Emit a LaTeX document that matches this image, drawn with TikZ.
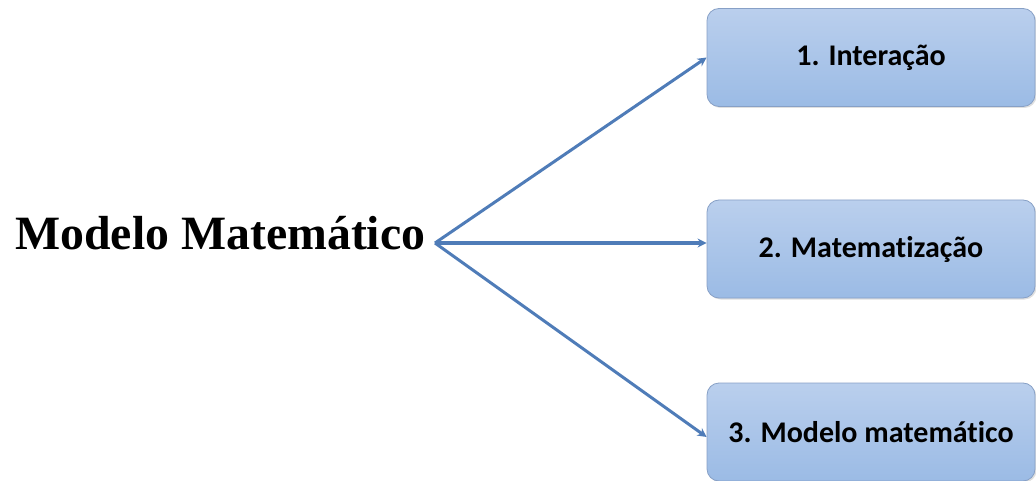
\documentclass[tikz,border=0pt]{standalone}
\usepackage{fontspec}
\setmainfont{Liberation Serif}
\newfontfamily\boxfont[Ligatures={NoCommon}]{Carlito}
\usetikzlibrary{positioning,shadows,arrows.meta}
\definecolor{boxtop}{RGB}{186,207,237}
\definecolor{boxbot}{RGB}{155,187,229}
\definecolor{boxline}{RGB}{135,160,198}
\definecolor{arrowblue}{RGB}{79,124,184}
\tikzset{
  stage/.style={draw=boxline, line width=0.8pt, rounded corners=12pt,
    top color=boxtop, bottom color=boxbot,
    drop shadow={shadow xshift=1.5pt, shadow yshift=-1.5pt, opacity=0.25},
    minimum width=328pt, minimum height=98pt,
    font=\boxfont\bfseries\fontsize{30}{32}\selectfont, text=black},
  link/.style={draw=arrowblue, line width=3pt, -{Stealth[length=9pt,width=9pt]}}
}
\begin{document}
\begin{tikzpicture}[x=1pt,y=-1pt]
\useasboundingbox (0,0) rectangle (1036,481);
% the title
\node[anchor=base west, inner sep=0pt,
  font=\bfseries\fontsize{47.8}{50}\selectfont] (title) at (15,250) {Modelo Matemático};
\coordinate (hub) at (435,243);

% the stages
\node[stage] (one) at (871,57.5) {1. Interação};
\node[stage] (two) at (871,249) {2. Matematização};
\node[stage] (three) at (871,432) {3. Modelo matemático};

% the arrows
\path (hub) edge[link] (one.west)
      (hub) edge[link] ([yshift=6pt]two.west)
      (hub) edge[link] ([yshift=-5pt]three.west);
\end{tikzpicture}
\end{document}
